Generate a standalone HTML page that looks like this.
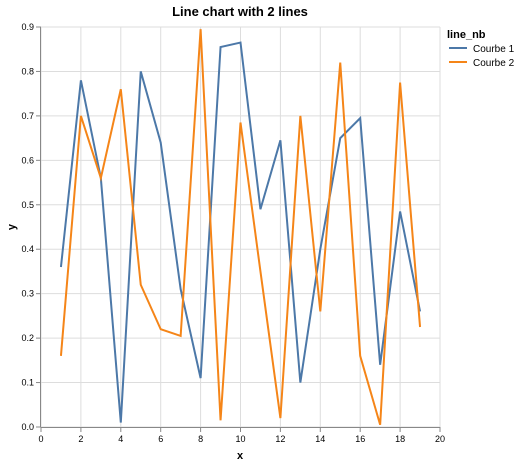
<!DOCTYPE html>
<html><head><meta charset="utf-8"><style>
html,body{margin:0;padding:0;background:#fff;}
svg text{font-family:"Liberation Sans",sans-serif;}
</style></head><body>
<svg id="chart" width="521" height="464" xmlns="http://www.w3.org/2000/svg">
<g id="grid"></g>
<g id="axes"></g>
<g id="lines"></g>
<text x="240" y="16" text-anchor="middle" font-size="13" font-weight="bold" fill="#000">Line chart with 2 lines</text>
<text x="240" y="459" text-anchor="middle" font-size="11" font-weight="bold" fill="#000">x</text>
<text transform="translate(15,227) rotate(-90)" text-anchor="middle" font-size="11" font-weight="bold" fill="#000">y</text>
<g>
<text x="447" y="38" font-size="11" font-weight="bold" fill="#000">line_nb</text>
<g><line x1="449" y1="48" x2="467" y2="48" stroke="#4c78a8" stroke-width="2"/><text x="473" y="52" font-size="10" fill="#000">Courbe 1</text></g>
<g><line x1="449" y1="62" x2="467" y2="62" stroke="#f58518" stroke-width="2"/><text x="473" y="66" font-size="10" fill="#000">Courbe 2</text></g>
</g>
</svg>
<script>
const xs=[1,2,3,4,5,6,7,8,9,10,11,12,13,14,15,16,17,18,19];
const courbe1=[0.36,0.78,0.56,0.01,0.80,0.64,0.31,0.11,0.855,0.865,0.49,0.645,0.10,0.40,0.65,0.695,0.14,0.485,0.26];
const courbe2=[0.16,0.70,0.56,0.76,0.32,0.22,0.205,0.895,0.015,0.685,0.35,0.02,0.70,0.26,0.82,0.16,0.005,0.775,0.225];
const xTicks=[0,2,4,6,8,10,12,14,16,18,20];
const yTicks=[0,0.1,0.2,0.3,0.4,0.5,0.6,0.7,0.8,0.9];
const L=41,R=440,T=27,B=427;
const sx=v=>L+(v-0)/20*(R-L);
const sy=v=>B-(v-0)/0.9*(B-T);
const NS="http://www.w3.org/2000/svg";
const grid=document.getElementById('grid'),axes=document.getElementById('axes'),lines=document.getElementById('lines');
function mk(t,a,p){const e=document.createElementNS(NS,t);for(const k in a)e.setAttribute(k,a[k]);p.appendChild(e);return e;}
xTicks.forEach(v=>{
 const g=mk('line',{x1:sx(v),x2:sx(v),y1:T,y2:B,stroke:'#ddd'},grid);
 
 
 const tk=mk('line',{x1:sx(v),x2:sx(v),y1:B,y2:B+5,stroke:'#888'},axes);
 
 
 const t=mk('text',{x:sx(v),y:B+15,'text-anchor':'middle','font-size':'9',fill:'#000'},axes);
 t.textContent=v;
 
 
});
yTicks.forEach(v=>{
 const g=mk('line',{x1:L,x2:R,y1:sy(v),y2:sy(v),stroke:'#ddd'},grid);
 
 
 const tk=mk('line',{x1:L-5,x2:L,y1:sy(v),y2:sy(v),stroke:'#888'},axes);
 
 
 const t=mk('text',{x:L-7,y:sy(v)+3,'text-anchor':'end','font-size':'9',fill:'#000'},axes);
 t.textContent=v===0?'0.0':String(v);
 
 
});
const xa=mk('line',{x1:L,x2:R,y1:B+0.5,y2:B+0.5,stroke:'#888'},axes);


const ya=mk('line',{x1:L-0.5,x2:L-0.5,y1:T,y2:B,stroke:'#888'},axes);


function path(vals,col,name){
 const d=vals.map((v,i)=>(i?'L':'M')+sx(xs[i])+','+sy(v)).join('');
 const p=mk('path',{d:d,fill:'none',stroke:col,'stroke-width':'2'},lines);
 
 
}
path(courbe1,'#4c78a8','line-courbe-1');
path(courbe2,'#f58518','line-courbe-2');
</script>
</body></html>
